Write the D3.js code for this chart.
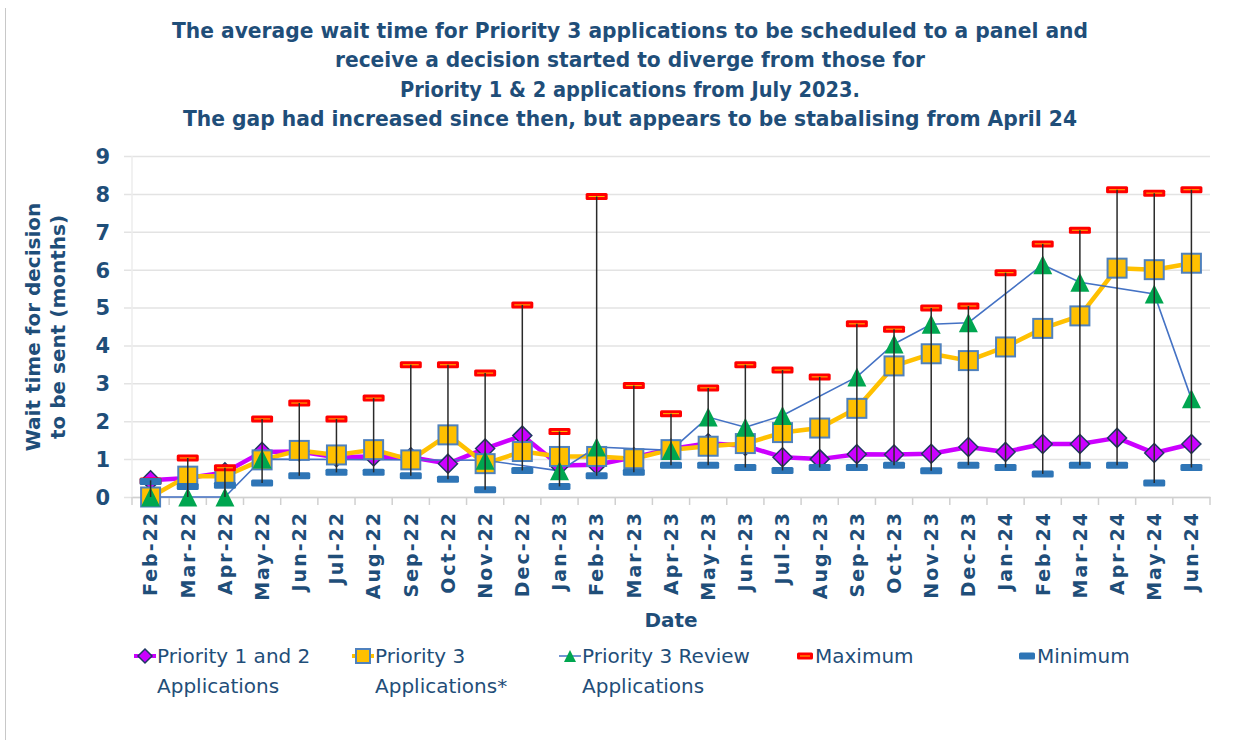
<!DOCTYPE html>
<html><head><meta charset="utf-8">
<script src="https://cdn.jsdelivr.net/npm/d3@7"></script>
<style>
html,body{margin:0;padding:0;background:#fff;}
svg text{font-family:"DejaVu Sans",sans-serif;}
</style></head>
<body><svg id="c" width="1236" height="740"></svg>
<script>
const categories = ["Feb-22","Mar-22","Apr-22","May-22","Jun-22","Jul-22","Aug-22","Sep-22","Oct-22","Nov-22","Dec-22","Jan-23","Feb-23","Mar-23","Apr-23","May-23","Jun-23","Jul-23","Aug-23","Sep-23","Oct-23","Nov-23","Dec-23","Jan-24","Feb-24","Mar-24","Apr-24","May-24","Jun-24"];
const priority12 = [0.44,0.5,0.65,1.19,1.2,1.05,1.07,1.05,0.88,1.28,1.62,0.83,0.85,1.05,1.27,1.42,1.35,1.05,1.0,1.13,1.12,1.14,1.32,1.19,1.4,1.4,1.56,1.16,1.4];
const priority3 = [0.0,0.55,0.55,0.98,1.23,1.11,1.25,0.98,1.64,0.88,1.2,1.07,1.07,1.01,1.25,1.34,1.41,1.7,1.82,2.34,3.46,3.78,3.6,3.96,4.45,4.78,6.04,6.0,6.17];
const priority3Review = [0,0,0,1.0,null,null,null,null,null,0.97,null,0.69,1.32,null,1.23,2.11,1.84,2.15,null,3.17,4.04,4.56,4.6,null,6.13,5.67,null,5.36,2.59];
const maximum = [0.42,1.03,0.77,2.06,2.48,2.06,2.61,3.49,3.49,3.27,5.07,1.73,7.93,2.94,2.2,2.88,3.49,3.35,3.17,4.57,4.43,4.99,5.04,5.92,6.68,7.04,8.11,8.02,8.11];
const minimum = [0.41,0.28,0.31,0.37,0.56,0.65,0.65,0.56,0.47,0.19,0.70,0.28,0.56,0.65,0.84,0.84,0.78,0.70,0.78,0.78,0.84,0.69,0.84,0.78,0.61,0.84,0.84,0.37,0.78];
const yTicks = [0,1,2,3,4,5,6,7,8,9];
const titleLines = ["The average wait time for Priority 3 applications to be scheduled to a panel and","receive a decision started to diverge from those for","Priority 1 & 2 applications from July 2023.","The gap had increased since then, but appears to be stabalising from April 24"];
const yTitleLines = ["Wait time for decision","to be sent (months)"];
const xTitle = "Date";
const legendItems = [["Priority 1 and 2","Applications"],["Priority 3","Applications*"],["Priority 3 Review","Applications"],["Maximum"],["Minimum"]];

const C = {navy:"#1F4E79", purple:"#CC00FF", gold:"#FFC000", sqStroke:"#4F81BD", green:"#00A650", rline:"#4472C4", red:"#FF0000", minBlue:"#2E75B6", grid:"#E3E3E3"};
const svg = d3.select("#c");
const L=132, R=1210, T=156, B=497;
const x = d3.scaleBand().domain(categories).range([L,R]);
const y = d3.scaleLinear().domain([0,9]).range([B,T]);
const cx = c => x(c)+x.bandwidth()/2;

// frame line
svg.append("line").attr("x1",5.5).attr("x2",5.5).attr("y1",8).attr("y2",740).attr("stroke","#C8C8C8").attr("stroke-width",1);

// title
const titleW=[916,590,460,894];
svg.append("g").selectAll("text").data(titleLines).join("text")
  .attr("x",630).attr("y",(d,i)=>38+i*29.3).attr("text-anchor","middle")
  .attr("font-size",21).attr("font-weight","bold").attr("fill",C.navy)
  .attr("textLength",(d,i)=>titleW[i]).attr("lengthAdjust","spacingAndGlyphs").text(d=>d);

// gridlines + y axis
const yAxis = d3.axisLeft(y).tickValues(yTicks).tickSize(R-L+8).tickPadding(14);
const gy = svg.append("g").attr("transform",`translate(${R},0)`).call(yAxis);
gy.select(".domain").remove();
gy.selectAll(".tick line").attr("stroke",C.grid).attr("stroke-width",1.5);
gy.selectAll(".tick text").attr("font-size",21).attr("font-weight","bold").attr("fill",C.navy).attr("dy","0.35em");
svg.append("line").attr("x1",L).attr("x2",L).attr("y1",T).attr("y2",B).attr("stroke","#EDEDED").attr("stroke-width",1.5);

// x axis
const xAxis = d3.axisBottom(x).tickSize(0).tickPadding(10);
const gx = svg.append("g").attr("transform",`translate(0,${B})`).call(xAxis);
gx.select(".domain").attr("stroke","#D0D0D0").attr("stroke-width",1.5);
gx.selectAll(".tick text").attr("font-size",19).attr("font-weight","bold").attr("fill",C.navy).attr("letter-spacing","2px")
  .attr("transform","rotate(-90)").attr("text-anchor","end").attr("x",-14).attr("y",0).attr("dy","0.36em");
// category separators
svg.append("g").selectAll("line").data(categories.concat(["__end"])).join("line")
  .attr("x1",(d,i)=>L+i*x.step()).attr("x2",(d,i)=>L+i*x.step()).attr("y1",B).attr("y2",B+8)
  .attr("stroke","#D0D0D0").attr("stroke-width",1.5);

// axis titles
svg.append("g").selectAll("text").data(yTitleLines).join("text")
  .attr("transform",(d,i)=>`translate(${40+i*25},327) rotate(-90)`).attr("text-anchor","middle")
  .attr("font-size",20).attr("font-weight","bold").attr("fill",C.navy).text(d=>d);
svg.append("text").attr("x",671).attr("y",627).attr("text-anchor","middle").attr("font-size",20).attr("font-weight","bold").attr("fill",C.navy).text(xTitle);

// lines
const lineGen = d3.line().x(d=>cx(d.c)).y(d=>y(d.v));
const pts = arr => arr.map((v,i)=>({c:categories[i],v})).filter(d=>d.v!==null);
svg.append("path").attr("d",lineGen(pts(priority12))).attr("fill","none").attr("stroke",C.purple).attr("stroke-width",4.5).attr("stroke-linejoin","round");
svg.append("path").attr("d",lineGen(pts(priority3))).attr("fill","none").attr("stroke",C.gold).attr("stroke-width",4.5).attr("stroke-linejoin","round");
svg.append("path").attr("d",lineGen(pts(priority3Review))).attr("fill","none").attr("stroke",C.rline).attr("stroke-width",1.6);

// markers
const diamond = (g,px,py,s)=>g.append("path").attr("d",`M${px},${py-s}L${px+s},${py}L${px},${py+s}L${px-s},${py}Z`).attr("fill",C.purple).attr("stroke","#1F3864").attr("stroke-width",1.5);
const square = (g,px,py,s)=>g.append("rect").attr("x",px-s).attr("y",py-s).attr("width",2*s).attr("height",2*s).attr("fill",C.gold).attr("stroke",C.sqStroke).attr("stroke-width",2);
const tri = (g,px,py,s)=>g.append("path").attr("d",`M${px},${py-s}L${px+s},${py+s}L${px-s},${py+s}Z`).attr("fill",C.green);
const maxM = (g,px,py,w)=>{g.append("rect").attr("x",px-w/2).attr("y",py-3.5).attr("width",w).attr("height",7).attr("rx",1.5).attr("fill",C.red);
  g.append("line").attr("x1",px-w/2+3).attr("x2",px+w/2-3).attr("y1",py).attr("y2",py).attr("stroke","#FFC000").attr("stroke-width",1);};
const minM = (g,px,py,w)=>g.append("rect").attr("x",px-w/2).attr("y",py-3.5).attr("width",w).attr("height",7).attr("rx",1.5).attr("fill",C.minBlue);

const gm = svg.append("g");
pts(priority12).forEach(d=>diamond(gm,cx(d.c),y(d.v),9.5));
pts(priority3).forEach(d=>square(gm,cx(d.c),y(d.v),9.5));
pts(priority3Review).forEach(d=>tri(gm,cx(d.c),y(d.v),9.5));
pts(maximum).forEach(d=>maxM(gm,cx(d.c),y(d.v),22));
pts(minimum).forEach(d=>minM(gm,cx(d.c),y(d.v),22));

// high-low lines
categories.forEach((c,i)=>{
  const vals=[priority12[i],priority3[i],priority3Review[i],maximum[i],minimum[i]].filter(v=>v!==null);
  svg.append("line").attr("x1",cx(c)).attr("x2",cx(c)).attr("y1",y(d3.max(vals))).attr("y2",y(d3.min(vals)))
    .attr("stroke","#2A2A2A").attr("stroke-width",1.5);
});

// legend
const lg = svg.append("g");
const lx=[157,375,582,815,1037];
legendItems.forEach((lines,i)=>{
  const sx=lx[i]-12, sy=656;
  if(i===0){lg.append("line").attr("x1",sx-11).attr("x2",sx+11).attr("y1",sy).attr("y2",sy).attr("stroke",C.purple).attr("stroke-width",4); diamond(lg,sx,sy,7);}
  if(i===1){lg.append("line").attr("x1",sx-11).attr("x2",sx+11).attr("y1",sy).attr("y2",sy).attr("stroke",C.gold).attr("stroke-width",4); square(lg,sx,sy,7);}
  if(i===2){lg.append("line").attr("x1",sx-11).attr("x2",sx+11).attr("y1",sy).attr("y2",sy).attr("stroke",C.rline).attr("stroke-width",1.5); tri(lg,sx,sy,6);}
  if(i===3){maxM(lg,sx+2,sy,16);}
  if(i===4){minM(lg,sx+2,sy,16);}
  lines.forEach((t,j)=>lg.append("text").attr("x",lx[i]).attr("y",sy+7+j*30).attr("font-size",20).attr("fill","#1F4E79").text(t));
});
</script></body></html>
